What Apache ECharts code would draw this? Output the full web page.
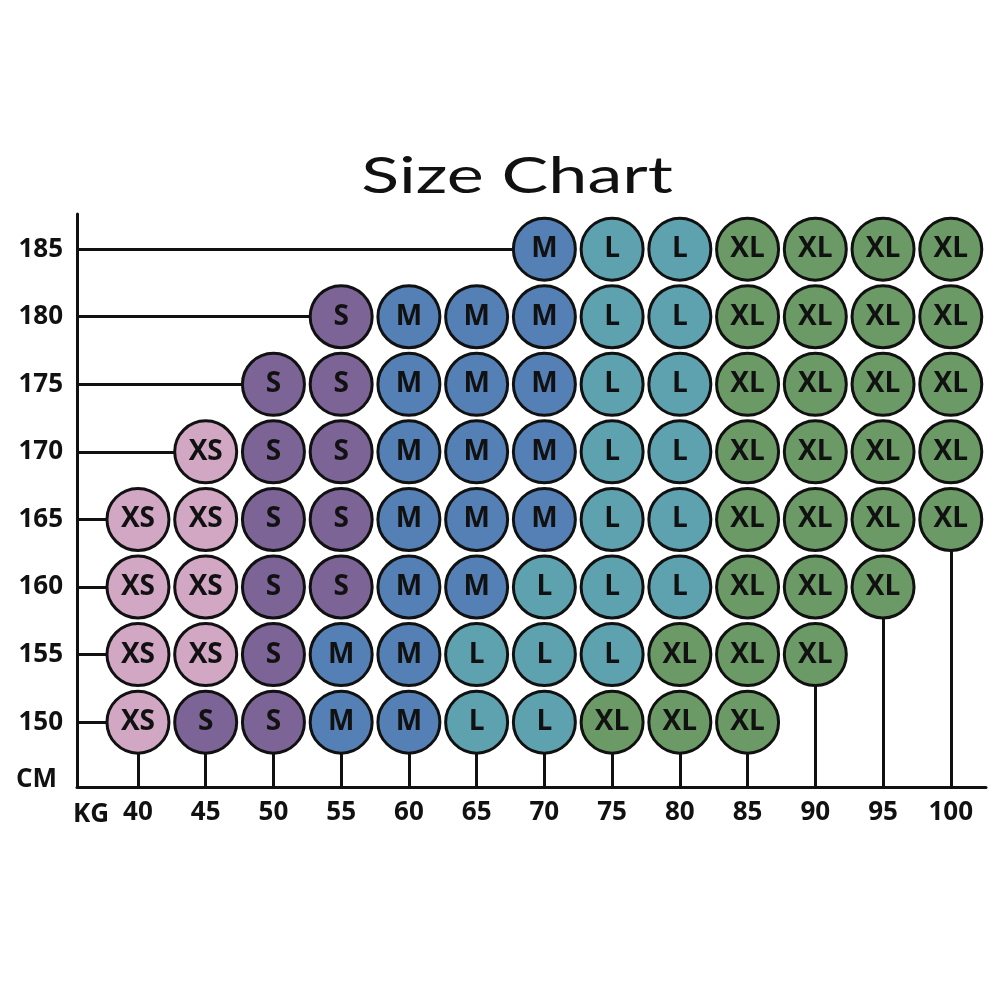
<!DOCTYPE html>
<html>
<head>
<meta charset="utf-8">
<script src="https://cdn.jsdelivr.net/npm/echarts@6/dist/echarts.min.js"></script>
<style>html,body{margin:0;padding:0;background:#fff}#c{width:1000px;height:1000px}</style>
</head>
<body>
<div id="c"></div>
<script>
// Weight (kg) columns and height (cm) rows
const weights = [40, 45, 50, 55, 60, 65, 70, 75, 80, 85, 90, 95, 100];
const heights = [150, 155, 160, 165, 170, 175, 180, 185];
// Size per row: starting weight, then sizes in order
const row150 = { start: 40, sizes: ['XS','S','S','M','M','L','L','XL','XL','XL'] };
const row155 = { start: 40, sizes: ['XS','XS','S','M','M','L','L','L','XL','XL','XL'] };
const row160 = { start: 40, sizes: ['XS','XS','S','S','M','M','L','L','L','XL','XL','XL'] };
const row165 = { start: 40, sizes: ['XS','XS','S','S','M','M','M','L','L','XL','XL','XL','XL'] };
const row170 = { start: 45, sizes: ['XS','S','S','M','M','M','L','L','XL','XL','XL','XL'] };
const row175 = { start: 50, sizes: ['S','S','M','M','M','L','L','XL','XL','XL','XL'] };
const row180 = { start: 55, sizes: ['S','M','M','M','L','L','XL','XL','XL','XL'] };
const row185 = { start: 70, sizes: ['M','L','L','XL','XL','XL','XL'] };
const rows = [row150, row155, row160, row165, row170, row175, row180, row185];
const sizeNames = ['XS','S','M','L','XL'];
const sizeColors = { XS: '#d1a7c4', S: '#7c6496', M: '#5480b6', L: '#5ea2b0', XL: '#6b9a66' };

const xMin = 35.5, xMax = 102.6, yMin = 145.2, yMax = 187.6;

// build points
const points = {};
sizeNames.forEach(s => points[s] = []);
const rowLeft = [];
rows.forEach((r, i) => {
  const h = heights[i];
  const si = weights.indexOf(r.start);
  r.sizes.forEach((s, k) => { points[s].push([weights[si + k], h, s]); });
  rowLeft.push([h, r.start]);
});
// lowest height per weight column
const colBottom = weights.map(w => {
  for (let i = 0; i < rows.length; i++) {
    const si = weights.indexOf(rows[i].start);
    const wi = weights.indexOf(w);
    if (wi >= si && wi < si + rows[i].sizes.length) return [w, heights[i]];
  }
  return [w, yMin];
});

const lineCoords = [];
rowLeft.forEach(([h, w]) => lineCoords.push({ coords: [[xMin, h], [w, h]] }));
colBottom.forEach(([w, h]) => lineCoords.push({ coords: [[w, yMin], [w, h]] }));

const labelFont = '"Open Sans", "DejaVu Sans", sans-serif';
const series = [{
  type: 'lines', coordinateSystem: 'cartesian2d', z: 1, silent: true,
  lineStyle: { color: '#111', width: 3, opacity: 1 },
  data: lineCoords
}];
sizeNames.forEach(s => {
  series.push({
    type: 'scatter', name: s, z: 5, symbol: 'circle', symbolSize: 62,
    itemStyle: { color: sizeColors[s], borderColor: '#111', borderWidth: 3, opacity: 1 },
    label: { show: true, position: 'inside', formatter: p => p.data[2], color: '#111',
      fontFamily: labelFont, fontWeight: 'bold', fontSize: 28 },
    emphasis: { disabled: true },
    data: points[s]
  });
});

const chart = echarts.init(document.getElementById('c'), null, { renderer: 'canvas' });
chart.setOption({
  animation: false,
  backgroundColor: '#fff',
  grid: { left: 77, right: 14, top: 214, bottom: 213, containLabel: false },
  xAxis: {
    type: 'value', min: xMin, max: xMax,
    axisLine: { show: true, lineStyle: { color: '#111', width: 3 } },
    axisTick: { show: false }, splitLine: { show: false },
    axisLabel: { customValues: weights, color: '#111', fontFamily: labelFont, fontWeight: 'bold', fontSize: 26, margin: 13 }
  },
  yAxis: {
    type: 'value', min: yMin, max: yMax,
    axisLine: { show: true, lineStyle: { color: '#111', width: 3 } },
    axisTick: { show: false }, splitLine: { show: false },
    axisLabel: { customValues: heights, color: '#111', fontFamily: labelFont, fontWeight: 'bold', fontSize: 26, margin: 14 }
  },
  graphic: [
    { type: 'text', x: 517, y: 177, scaleX: 1.4, scaleY: 1, z: 10,
      style: { text: 'Size Chart', fill: '#111', font: 'normal 50px Lato, "DejaVu Sans", sans-serif',
        textAlign: 'center', textVerticalAlign: 'middle' } },
    { type: 'text', x: 16, y: 780, z: 10, style: { text: 'CM', fill: '#111', font: 'bold 26px ' + labelFont, textVerticalAlign: 'middle' } },
    { type: 'text', x: 73, y: 815, z: 10, style: { text: 'KG', fill: '#111', font: 'bold 26px ' + labelFont, textVerticalAlign: 'middle' } }
  ],
  series: series
});
</script>
</body>
</html>
